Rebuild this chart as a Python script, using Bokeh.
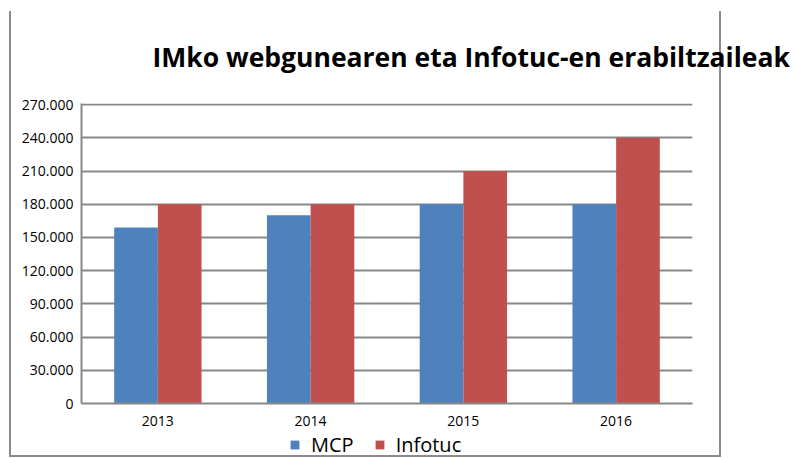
from bokeh.plotting import figure
from bokeh.layouts import column
from bokeh.models import (ColumnDataSource, FactorRange, Range1d, FixedTicker,
                          Legend, LegendItem)
from bokeh.transform import dodge
from bokeh.embed import file_html
from bokeh.resources import INLINE

years = ["2013", "2014", "2015", "2016"]
mcp = [159000, 170000, 180000, 180000]
infotuc = [180000, 180000, 210000, 240000]
y_ticks = [0, 30000, 60000, 90000, 120000, 150000, 180000, 210000, 240000, 270000]
y_tick_labels = ["0", "30.000", "60.000", "90.000", "120.000", "150.000",
                 "180.000", "210.000", "240.000", "270.000"]
series_names = ["MCP", "Infotuc"]
series_colors = ["#4F81BD", "#C0504D"]
title_text = "IMko webgunearen eta Infotuc-en erabiltzaileak"

src = ColumnDataSource(dict(year=years, mcp=mcp, infotuc=infotuc))

W = 795
p = figure(width=W, height=434, x_range=FactorRange(*years), y_range=Range1d(0, 271000),
           output_backend="svg", toolbar_location=None,
           min_border_left=81, min_border_right=103, min_border_top=103, min_border_bottom=31)
p.outline_line_color = None
p.background_fill_color = "white"
p.border_fill_alpha = 0

bw = 0.286
r1 = p.vbar(x=dodge("year", -bw / 2, range=p.x_range), top="mcp", width=bw, source=src,
            fill_color=series_colors[0], line_color=None)
r2 = p.vbar(x=dodge("year", bw / 2, range=p.x_range), top="infotuc", width=bw, source=src,
            fill_color=series_colors[1], line_color=None)

grid_col = "#878787"
p.xgrid.grid_line_color = None
p.ygrid.grid_line_color = grid_col
p.ygrid.grid_line_width = 2
p.yaxis.ticker = FixedTicker(ticks=y_ticks)
p.yaxis.major_label_overrides = {t: l for t, l in zip(y_ticks, y_tick_labels)}
for ax in (p.xaxis, p.yaxis):
    ax.axis_line_color = grid_col
    ax.axis_line_width = 2
    ax.major_tick_line_color = None
    ax.minor_tick_line_color = None
    ax.major_tick_out = 0
    ax.major_tick_in = 0
    ax.major_label_text_font = "Open Sans"
    ax.major_label_text_font_size = "14px"
    ax.major_label_text_color = "#000000"
p.yaxis.major_label_standoff = 8
p.xaxis.major_label_standoff = 12

p.title.text = title_text
p.title.text_font = "Open Sans"
p.title.text_font_style = "bold"
p.title.text_font_size = "26.5px"
p.title.align = "left"
p.title.offset = 71
p.title.standoff = 57
p.title.text_color = "#000000"

# legend strip below the chart (its renderers lie outside its visible y range)
pl = figure(width=W, height=24, output_backend="svg", toolbar_location=None,
            x_range=p.x_range, y_range=Range1d(1e6, 2e6),
            x_axis_type=None, y_axis_type=None,
            min_border_left=0, min_border_right=0, min_border_top=0, min_border_bottom=0)
pl.outline_line_color = None
pl.background_fill_alpha = 0
pl.border_fill_alpha = 0
pl.grid.grid_line_color = None
l1 = pl.vbar(x="year", top="mcp", width=bw, source=src,
             fill_color=series_colors[0], line_color=None)
l2 = pl.vbar(x="year", top="infotuc", width=bw, source=src,
             fill_color=series_colors[1], line_color=None)
legend = Legend(items=[LegendItem(label=series_names[0], renderers=[l1]),
                       LegendItem(label=series_names[1], renderers=[l2])],
                location=(208, 0), orientation="horizontal",
                glyph_width=11, glyph_height=11, label_standoff=11, spacing=20,
                padding=0, margin=0, border_line_color=None, background_fill_alpha=0,
                label_text_font="Open Sans", label_text_font_size="20px",
                label_text_color="#000000")
pl.add_layout(legend, "center")

fc = "#8c8c8c"
grad = "linear-gradient(%s,%s)" % (fc, fc)
layout = column(p, pl, spacing=0)
layout.styles = {
    "background-color": "white",
    "background-image": ", ".join([grad] * 3),
    "background-size": "2px 445px, 2px 445px, 712px 2px",
    "background-position": "9px 11px, 719px 11px, 9px 455px",
    "background-repeat": "no-repeat",
}

open("out.html", "w").write(file_html(layout, INLINE))
